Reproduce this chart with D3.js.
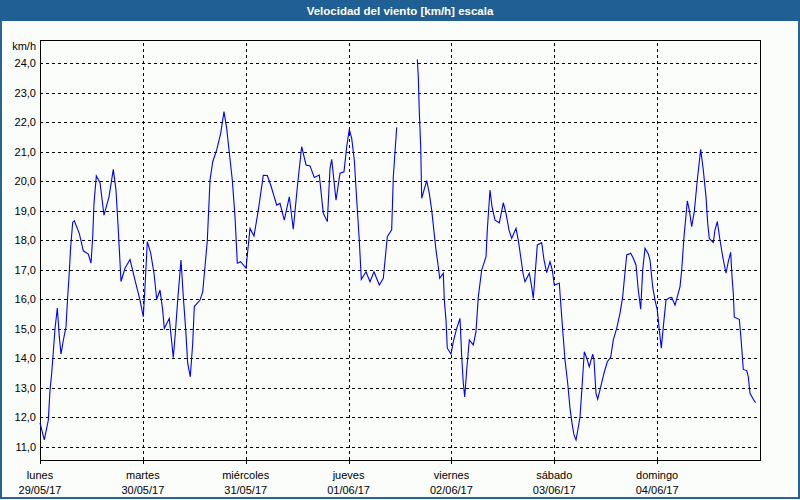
<!DOCTYPE html>
<html><head><meta charset="utf-8">
<script src="https://cdn.jsdelivr.net/npm/d3@7"></script>
<style>
html,body{margin:0;padding:0;background:#fbfdfb;}
svg{display:block;font-family:"Liberation Sans",Arial,sans-serif;}
</style></head>
<body>
<svg id="c" width="800" height="500"></svg>
<script>
// ---- data ----
const dayNames = ["lunes","martes","miércoles","jueves","viernes","sábado","domingo"];
const dayDates = ["29/05/17","30/05/17","31/05/17","01/06/17","02/06/17","03/06/17","04/06/17"];
const yTicks = [11,12,13,14,15,16,17,18,19,20,21,22,23,24];
// hours since 29/05/17 00:00
const hours = [0,1,1.94,2.33,2.73,3.1,3.5,4.04,4.5,4.9,5.44,6.07,6.46,6.77,7.16,7.63,8,9.17,10.1,11.27,11.9,12.3,12.6,13.14,14,14.93,16.1,17.1,17.73,18.27,18.9,19.83,21,22.17,23.33,24.1,24.5,25.04,25.83,26.6,27.23,28,28.63,29,30.17,31.1,31.57,32.13,32.9,33.44,34,34.46,35.07,35.63,36,37.33,37.96,38.5,39.04,39.67,40.3,41.23,42.16,42.93,43.56,43.94,44.87,45.5,46.04,46.83,48.07,49,49.93,50.94,52.1,53.04,53.83,55.23,56,57,58.17,59.1,60.13,61.06,62.07,63,64,65.17,66.1,67.04,67.67,68.06,69.07,70,70.93,71.56,72.17,72.73,73.34,73.9,74.5,74.97,76.07,77,77.93,79.17,80.1,81.04,82.06,82.44,83.23,85.5,88.04,88.27,88.5,88.83,89.06,89.6,90.23,90.84,91.4,91.93,92.4,92.94,93.26,94.1,94.34,94.73,95.04,95.9,96.44,97.23,98,98.4,98.77,99.1,99.56,100.17,101.1,101.73,102.27,103.06,104.07,104.37,105,105.47,106.17,107.17,108.1,108.73,109.43,110.06,111.07,111.6,112.16,112.77,113.17,114.17,114.73,115.1,115.66,116.04,117.06,117.6,118.23,119,119.54,120,121.17,121.5,121.96,122.5,123.13,123.67,124.13,124.6,125.07,125.53,126,126.63,127,127.56,128.17,128.96,129.27,129.73,130.13,130.83,131.6,132.37,133.16,133.77,134.56,135.33,135.96,136.33,136.9,137.83,138.44,139.07,139.6,140.16,140.63,141.17,141.94,142.33,142.96,143.5,144.04,144.5,144.97,145.44,146.07,146.84,147.4,148.17,148.8,149.33,149.73,150.27,151.04,151.5,152.06,152.67,153.37,154.16,154.77,155.4,155.8,156.17,157.1,157.5,158.04,158.67,159.3,160.07,160.6,161.16,161.47,161.77,162,163.17,163.57,164.1,164.9,165.27,165.67,166.43,167];
const speed = [11.81,11.23,11.9,12.9,13.5,14.2,15.0,15.7,14.73,14.14,14.6,15.07,16.08,16.76,17.78,18.6,18.66,18.23,17.64,17.53,17.22,18.12,19.25,20.18,19.95,18.85,19.47,20.4,19.7,18.35,16.6,17.05,17.35,16.65,15.97,15.41,16.42,17.95,17.56,16.88,16.0,16.31,15.63,15.01,15.35,14.02,14.84,15.97,17.33,16.08,14.96,13.83,13.37,14.5,15.75,15.97,16.25,17.1,18.0,20.04,20.66,21.06,21.62,22.36,21.79,21.28,20.04,18.8,17.22,17.27,17.05,18.4,18.14,19.02,20.2,20.19,19.87,19.19,19.25,18.68,19.47,18.37,19.93,21.17,20.55,20.52,20.13,20.21,18.91,18.63,20.44,20.74,19.36,20.27,20.32,21.17,21.76,21.45,20.72,19.36,18.0,16.67,16.93,16.59,16.93,16.48,16.71,18.12,18.35,20.15,21.83,null,24.13,23.54,22.36,21.17,19.42,19.7,20.02,19.59,19.02,18.29,17.67,17.1,16.71,16.88,15.97,15.29,14.34,14.14,14.56,15.01,15.35,14.05,13.15,12.69,13.6,14.62,14.45,14.9,16.08,16.99,17.44,18.35,19.7,19.14,18.68,18.59,19.27,18.91,18.35,18.06,18.4,18.0,17.44,16.82,16.59,16.88,16.42,16.03,17.1,17.84,17.92,17.33,16.9,17.27,16.99,16.48,16.54,15.86,14.96,13.94,13.15,12.3,11.8,11.4,11.23,11.6,12.0,13.37,14.22,14.0,13.71,14.14,13.94,12.81,12.61,13.03,13.49,13.88,14.03,14.62,15.01,15.52,16.08,16.65,17.5,17.56,17.39,17.16,16.31,15.66,16.99,17.73,17.53,17.33,16.42,15.97,15.63,14.96,14.34,15.07,15.97,16.05,16.06,15.8,16.14,16.42,16.99,18.12,19.33,19.02,18.46,18.97,20.04,21.08,20.38,19.47,18.57,18.06,17.92,18.35,18.63,18.0,17.44,16.88,17.27,17.59,16.76,16.2,15.39,15.32,14.67,13.62,13.58,13.37,12.81,12.61,12.49];

// ---- layout ----
const W = 800, H = 500;
const m = {left:40, right:760, top:40, bottom:460};
const start = Date.UTC(2017,4,29);
const end = Date.UTC(2017,5,5);
const svg = d3.select("#c");

const x = d3.scaleUtc().domain([new Date(start), new Date(end)]).range([m.left, m.right]);
const y = d3.scaleLinear().domain([10.549, 24.787]).range([m.bottom, m.top]);

const dayTicks = dayNames.map((d,i)=> new Date(start + i*864e5));
const pts = hours.map((h,i)=>({t:new Date(start + h*3600e3), v:speed[i]}));

// background & frame
svg.append("rect").attr("x",0).attr("y",0).attr("width",W).attr("height",H).attr("fill","#fbfdfb");
svg.append("rect").attr("x",1).attr("y",1).attr("width",W-2).attr("height",H-3)
  .attr("fill","none").attr("stroke","#2a6496").attr("stroke-width",2);
svg.append("rect").attr("x",0).attr("y",0).attr("width",W).attr("height",21).attr("fill","#1f5f94");
svg.append("text").attr("x",W/2).attr("y",11).attr("dy","0.36em").attr("text-anchor","middle")
  .attr("fill","#fff").attr("font-weight","bold").attr("font-size",11.5)
  .text("Velocidad del viento [km/h] escala");

// horizontal grid
svg.append("g").attr("transform",`translate(${m.left},0)`)
  .call(d3.axisLeft(y).tickValues(yTicks).tickSize(-(m.right-m.left)).tickFormat(""))
  .call(g=>{g.select(".domain").remove();
    g.selectAll("line").attr("stroke","#000").attr("stroke-dasharray","3,3")
     .attr("shape-rendering","crispEdges");});

// vertical grid (days)
svg.append("g").attr("transform",`translate(0,${m.bottom})`)
  .call(d3.axisBottom(x).tickValues(dayTicks.slice(1)).tickSize(-(m.bottom-m.top)).tickFormat(""))
  .call(g=>{g.select(".domain").remove();
    g.selectAll("line").attr("stroke","#000").attr("stroke-dasharray","3,3")
     .attr("shape-rendering","crispEdges");});

// y labels
svg.append("g").attr("transform",`translate(${m.left},0)`)
  .call(d3.axisLeft(y).tickValues(yTicks).tickSize(0).tickPadding(4)
    .tickFormat(d=>d3.format(".1f")(d).replace(".",",")))
  .call(g=>{g.select(".domain").remove();
    g.selectAll("text").attr("fill","#000").attr("font-size",11)
     .attr("font-family","Liberation Sans, Arial, sans-serif");});
svg.append("text").attr("x",36).attr("y",46).attr("dy","0.36em").attr("text-anchor","end")
  .attr("font-size",11).attr("fill","#000").text("km/h");

// x axis labels + small ticks
const xa = svg.append("g").attr("transform",`translate(0,${m.bottom})`)
  .call(d3.axisBottom(x).tickValues(dayTicks).tickSize(4).tickFormat(""));
xa.select(".domain").remove();
xa.selectAll("line").attr("stroke","#000").attr("shape-rendering","crispEdges");
const lab = svg.append("g");
dayTicks.forEach((d,i)=>{
  const t = lab.append("text").attr("x",x(d)).attr("text-anchor","middle")
    .attr("font-size",11).attr("fill","#000");
  t.append("tspan").attr("x",x(d)).attr("y",475).attr("dy","0.36em").text(dayNames[i]);
  t.append("tspan").attr("x",x(d)).attr("y",490).attr("dy","0.36em").text(dayDates[i]);
});

// frame
svg.append("rect").attr("x",m.left+0.5).attr("y",m.top+0.5).attr("width",m.right-m.left)
  .attr("height",m.bottom-m.top).attr("fill","none").attr("stroke","#000").attr("stroke-width",1.5)
  .attr("shape-rendering","crispEdges");

// line
const line = d3.line().defined(d=>d.v!=null).x(d=>x(d.t)).y(d=>y(d.v));
svg.append("path").datum(pts).attr("d",line).attr("fill","none")
  .attr("stroke","#0000ff").attr("stroke-width",1.1);
</script>
</body></html>
